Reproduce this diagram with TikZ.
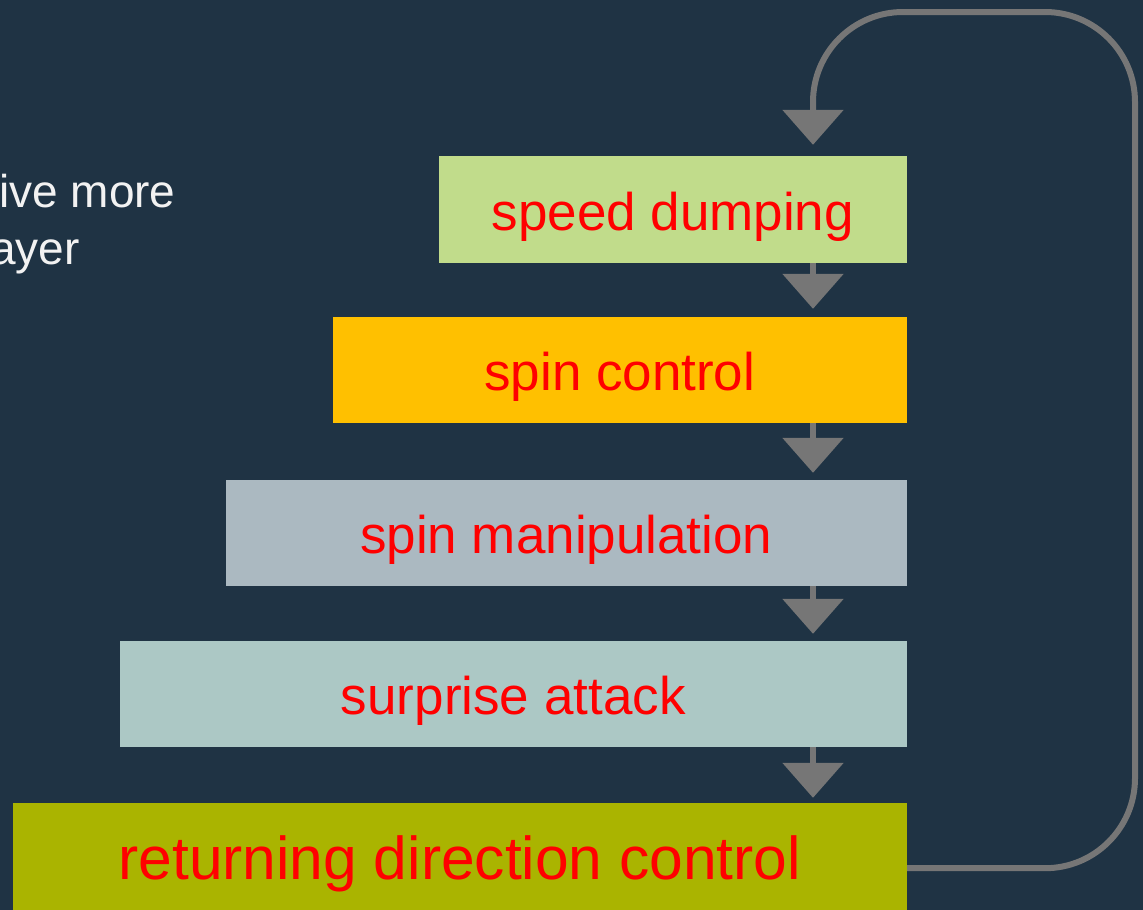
\documentclass[tikz,border=0pt]{standalone}
\usepackage{fontspec}
\setmainfont{Liberation Sans}
\usetikzlibrary{arrows.meta,calc}
\definecolor{bgc}{RGB}{31,51,68}
\definecolor{linec}{RGB}{118,118,118}
\definecolor{boxa}{RGB}{193,220,139}
\definecolor{boxb}{RGB}{255,192,0}
\definecolor{boxc}{RGB}{171,185,193}
\definecolor{boxd}{RGB}{172,200,197}
\definecolor{boxe}{RGB}{170,180,0}
\definecolor{txtc}{RGB}{255,0,0}
\definecolor{sidec}{RGB}{242,242,242}
\begin{document}
\begin{tikzpicture}[x=1pt,y=-1pt,
  stepbox/.style={anchor=east, inner sep=0pt, text=txtc, font=\fontsize{53}{60}\selectfont,
    text height=41pt, text depth=0pt, align=center},
  flow/.style={draw=linec, line width=6pt, -{Triangle[length=35pt,width=60pt]}},
  sidetext/.style={anchor=base west, inner sep=0pt, text=sidec, font=\fontsize{46}{55}\selectfont}]
\useasboundingbox (0,0) rectangle (1143,910);
\fill[bgc] (0,0) rectangle (1143,910);
\clip (0,0) rectangle (1143,910);
\node[sidetext] (s1) at (-1,207) {ive more};
\node[sidetext] (s2) at (-10,264) {ayer};
\node[stepbox, fill=boxa, minimum width=468pt, minimum height=107pt] (b1) at (907,209.5) {speed dumping};
\node[stepbox, fill=boxb, minimum width=574pt, minimum height=106pt] (b2) at (907,370) {spin control};
\node[stepbox, fill=boxc, minimum width=681pt, minimum height=106pt] (b3) at (907,533) {spin manipulation};
\node[stepbox, fill=boxd, minimum width=787pt, minimum height=106pt] (b4) at (907,694) {surprise attack};
\node[stepbox, fill=boxe, minimum width=894pt, minimum height=107pt, font=\fontsize{60.5}{66}\selectfont, text height=46pt] (b5) at (907,856.5) {returning direction control};
\coordinate (ax) at (813,0);
\draw[flow, shorten >=8pt] (b1.south -| ax) -- (b2.north -| ax);
\draw[flow, shorten >=7pt] (b2.south -| ax) -- (b3.north -| ax);
\draw[flow, shorten >=7pt] (b3.south -| ax) -- (b4.north -| ax);
\draw[flow, shorten >=5pt] (b4.south -| ax) -- (b5.north -| ax);
\coordinate (lp) at ($(b5.south east)+(0,-42)$);
\coordinate (rx) at (1135,12);
\draw[flow, rounded corners=90pt, shorten >=11pt] (lp) -- (lp -| rx) -- (rx) -- (rx -| ax) -- (b1.north -| ax);
\end{tikzpicture}
\end{document}
